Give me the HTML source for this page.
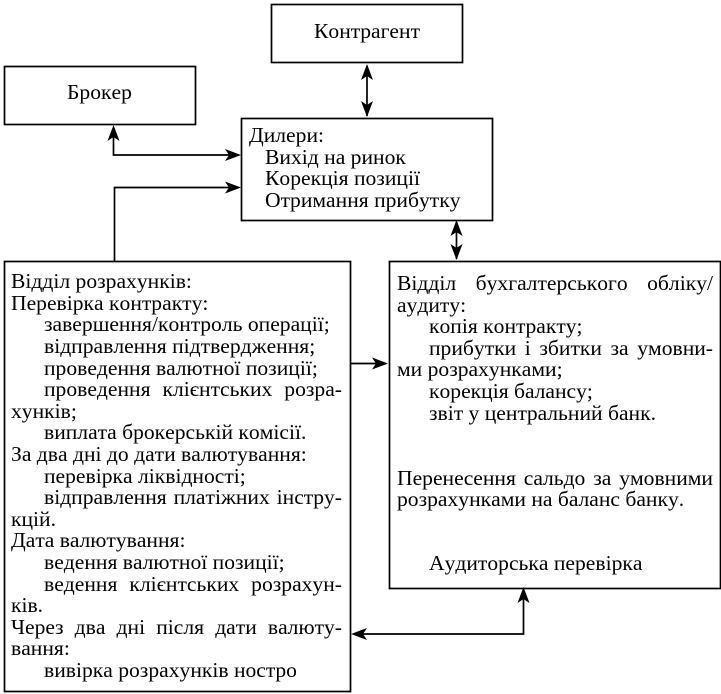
<!DOCTYPE html>
<html lang="uk">
<head>
<meta charset="utf-8">
<style>
html,body{margin:0;padding:0;background:#fff}
#c{position:relative;width:721px;height:694px;overflow:hidden;background:#fff;font-family:"Liberation Serif",serif;font-size:21.6px;font-kerning:none;color:#000}
svg{position:absolute;left:0;top:0}
.t{position:absolute;white-space:nowrap;line-height:24px;height:24px}
.j{text-align:justify;text-align-last:justify;white-space:normal}
</style>
</head>
<body>
<div id="c">
<svg width="721" height="694" viewBox="0 0 721 694" fill="none" stroke="#000" stroke-width="1.7">
<rect x="271.5" y="4.5" width="191" height="58"/>
<rect x="4.5" y="66.5" width="191" height="58"/>
<rect x="241.5" y="118.5" width="251" height="102"/>
<rect x="4.5" y="261.5" width="346" height="430"/>
<rect x="389.5" y="261.5" width="331" height="327"/>
<path d="M367 66V116"/>
<path d="M113.500 128V155H238"/>
<path d="M114.500 261V187.500H238"/>
<path d="M456.500 222V259"/>
<path d="M351 363.500H386"/>
<path d="M523.500 591V634H354"/>
<g fill="#000" stroke="none">
<path d="M367 64L373 80L367 76L361 80Z"/>
<path d="M367 117L373 101L367 105L361 101Z"/>
<path d="M113.500 125L119.500 141L113.500 137L107.500 141Z"/>
<path d="M241 155L225 149L229 155L225 161Z"/>
<path d="M241 187.500L225 181.500L229 187.500L225 193.500Z"/>
<path d="M456.500 220L462.500 236L456.500 232L450.500 236Z"/>
<path d="M456.500 260L462.500 244L456.500 248L450.500 244Z"/>
<path d="M388 363.500L372 357.500L376 363.500L372 369.500Z"/>
<path d="M523.500 587L529.500 603L523.500 599L517.500 603Z"/>
<path d="M351 634L367 628L363 634L367 640Z"/>
</g>
</svg>

<div class="t" style="left:314px;top:19px">Контрагент</div>
<div class="t" style="left:67px;top:80px">Брокер</div>

<div class="t" style="left:249px;top:123px">Дилери:</div>
<div class="t" style="left:265px;top:145px">Вихід на ринок</div>
<div class="t" style="left:265px;top:166px">Корекція позиції</div>
<div class="t" style="left:265px;top:188px">Отримання прибутку</div>

<div class="t" style="left:11px;top:269px">Відділ розрахунків:</div>
<div class="t" style="left:11px;top:291px">Перевірка контракту:</div>
<div class="t" style="left:44px;top:312px">завершення/контроль операції;</div>
<div class="t" style="left:44px;top:334px">відправлення підтвердження;</div>
<div class="t" style="left:44px;top:356px">проведення валютної позиції;</div>
<div class="t j" style="left:44px;top:377px;width:298px">проведення клієнтських розра-</div>
<div class="t" style="left:11px;top:399px">хунків;</div>
<div class="t" style="left:44px;top:420px">виплата брокерській комісії.</div>
<div class="t" style="left:11px;top:442px">За два дні до дати валютування:</div>
<div class="t" style="left:44px;top:464px">перевірка ліквідності;</div>
<div class="t j" style="left:44px;top:485px;width:298px">відправлення платіжних інстру-</div>
<div class="t" style="left:11px;top:507px">кцій.</div>
<div class="t" style="left:11px;top:528px">Дата валютування:</div>
<div class="t" style="left:44px;top:550px">ведення валютної позиції;</div>
<div class="t j" style="left:44px;top:572px;width:298px">ведення клієнтських розрахун-</div>
<div class="t" style="left:11px;top:593px">ків.</div>
<div class="t j" style="left:11px;top:615px;width:331px">Через два дні після дати валюту-</div>
<div class="t" style="left:11px;top:636px">вання:</div>
<div class="t" style="left:44px;top:658px">вивірка розрахунків ностро</div>

<div class="t j" style="left:397px;top:271px;width:316px">Відділ бухгалтерського обліку/</div>
<div class="t" style="left:397px;top:293px">аудиту:</div>
<div class="t" style="left:429px;top:314px">копія контракту;</div>
<div class="t j" style="left:429px;top:336px;width:284px">прибутки і збитки за умовни-</div>
<div class="t" style="left:397px;top:357px">ми розрахунками;</div>
<div class="t" style="left:429px;top:379px">корекція балансу;</div>
<div class="t" style="left:429px;top:401px">звіт у центральний банк.</div>
<div class="t j" style="left:397px;top:466px;width:316px">Перенесення сальдо за умовними</div>
<div class="t" style="left:397px;top:487px">розрахунками на баланс банку.</div>
<div class="t" style="left:429px;top:551px">Аудиторська перевірка</div>
</div>
</body>
</html>
